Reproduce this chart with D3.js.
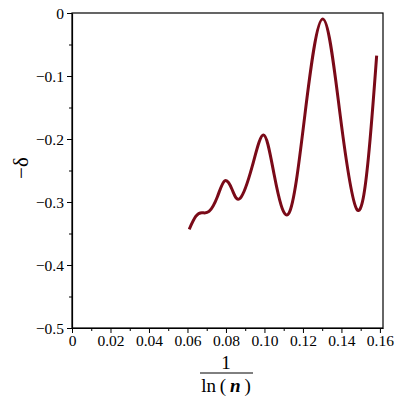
<!DOCTYPE html>
<html><head><meta charset="utf-8">
<script src="https://cdn.jsdelivr.net/npm/d3@7"></script>
<style>body{margin:0;background:#fff}svg{display:block}</style>
</head><body>
<svg id="c" width="400" height="400"></svg>
<script>
const xValues = [0.0609,0.0643,0.0675,0.0712,0.0755,0.0794,0.0833,0.0874,0.0936,0.0995,0.1050,0.1127,0.1210,0.1303,0.1393,0.1480,0.1540,0.1583];
const yValues = [-0.3433,-0.3230,-0.3170,-0.3150,-0.2920,-0.2662,-0.2810,-0.2941,-0.2440,-0.1937,-0.2560,-0.3179,-0.1620,-0.0095,-0.1610,-0.3116,-0.2300,-0.0678];
const xTicks = [0,0.02,0.04,0.06,0.08,0.10,0.12,0.14,0.16];
const xTickLabels = ["0","0.02","0.04","0.06","0.08","0.10","0.12","0.14","0.16"];
const xMinor = [0.01,0.03,0.05,0.07,0.09,0.11,0.13,0.15];
const yTicks = [0,-0.1,-0.2,-0.3,-0.4,-0.5];
const yTickLabels = ["0","\u22120.1","\u22120.2","\u22120.3","\u22120.4","\u22120.5"];
const yMinor = [-0.05,-0.15,-0.25,-0.35,-0.45];

const svg = d3.select("#c");
const L=72, R=383, T=13, B=328;
const x = d3.scaleLinear().domain([0,0.1616]).range([L,R]);
const y = d3.scaleLinear().domain([-0.5,0]).range([B,T]);
const font = "'Liberation Serif','Times New Roman',serif";

svg.append("rect").attr("x",L).attr("y",T).attr("width",R-L).attr("height",B-T)
  .attr("fill","none").attr("stroke","#000").attr("stroke-width",1.2);

const xa = svg.append("g").attr("transform",`translate(0,${B})`)
  .call(d3.axisBottom(x).tickValues(xTicks).tickFormat((d,i)=>xTickLabels[i]).tickSize(5).tickSizeOuter(0));
svg.append("g").attr("transform",`translate(0,${B})`)
  .call(d3.axisBottom(x).tickValues(xMinor).tickFormat("").tickSize(3).tickSizeOuter(0))
  .select(".domain").remove();
const ya = svg.append("g").attr("transform",`translate(${L},0)`)
  .call(d3.axisLeft(y).tickValues(yTicks).tickFormat((d,i)=>yTickLabels[i]).tickSize(5).tickSizeOuter(0));
svg.append("g").attr("transform",`translate(${L},0)`)
  .call(d3.axisLeft(y).tickValues(yMinor).tickFormat("").tickSize(3).tickSizeOuter(0))
  .select(".domain").remove();
svg.selectAll(".domain").attr("stroke-width",1.2);
svg.selectAll(".tick line").attr("stroke","#000");
xa.selectAll("text").attr("font-family",font).attr("font-size",15.5).attr("fill","#000").attr("dy","0.9em").attr("y",4);
ya.selectAll("text").attr("font-family",font).attr("font-size",15.5).attr("fill","#000").attr("x",-8).attr("dy","0.34em");

const pts = xValues.map((v,i)=>[v,yValues[i]]);
svg.append("path").datum(pts)
  .attr("d", d3.line().x(d=>x(d[0])).y(d=>y(d[1])).curve(d3.curveNatural))
  .attr("fill","none").attr("stroke","#7a0a18").attr("stroke-width",3).attr("stroke-linejoin","round");

const cx = 226;
svg.append("text").attr("x",cx).attr("y",369).attr("text-anchor","middle")
  .attr("font-family",font).attr("font-size",19).text("1");
svg.append("line").attr("x1",200).attr("x2",253).attr("y1",373).attr("y2",373).attr("stroke","#000").attr("stroke-width",1);
const t = svg.append("text").attr("x",cx).attr("y",392).attr("text-anchor","middle")
  .attr("font-family",font).attr("font-size",19);
t.append("tspan").text("ln\u2009(\u2009");
t.append("tspan").attr("font-style","italic").attr("font-weight","bold").text("n");
t.append("tspan").text("\u2009)");

svg.append("text").attr("transform","translate(28,168) rotate(-90)").attr("text-anchor","middle")
  .attr("font-family",font).attr("font-size",21).text("\u2212\u03b4");
</script>
</body></html>
